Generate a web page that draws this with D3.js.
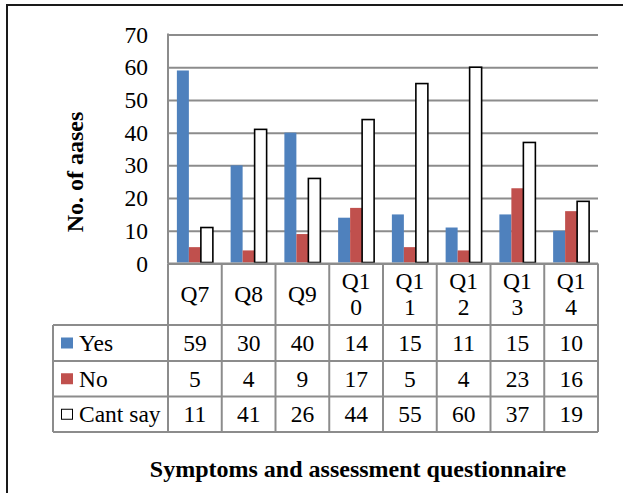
<!DOCTYPE html>
<html>
<head>
<meta charset="utf-8">
<script src="https://cdn.jsdelivr.net/npm/d3@7"></script>
<style>
  body { margin: 0; background: #fff; }
  svg { display: block; }
</style>
</head>
<body>
<svg id="chart" width="623" height="493"></svg>
<script>
// Survey responses per question
const categories = ["Q7", "Q8", "Q9", "Q10", "Q11", "Q12", "Q13", "Q14"];
const categoryLabels = [["Q7"], ["Q8"], ["Q9"], ["Q1", "0"], ["Q1", "1"], ["Q1", "2"], ["Q1", "3"], ["Q1", "4"]];
const seriesNames = ["Yes", "No", "Cant say"];
const yesValues = [59, 30, 40, 14, 15, 11, 15, 10];
const noValues = [5, 4, 9, 17, 5, 4, 23, 16];
const cantSayValues = [11, 41, 26, 44, 55, 60, 37, 19];
const yTicks = [0, 10, 20, 30, 40, 50, 60, 70];
const yAxisTitle = "No. of aases";
const chartTitle = "Symptoms and assessment questionnaire";

const seriesValues = [yesValues, noValues, cantSayValues];
const seriesFill = { "Yes": "#4f81bd", "No": "#c0504d", "Cant say": "#ffffff" };
const seriesStroke = { "Yes": "none", "No": "none", "Cant say": "#000000" };

const FONT = "'Liberation Serif', 'Times New Roman', Times, 'DejaVu Serif', serif";
const FS = 23.5;

const svg = d3.select("#chart");
const gridColor = "#8c8c8c";

// helper for styled text
function addText(parent, str, x, yPos, opts = {}) {
  return parent.append("text")
    .attr("x", x).attr("y", yPos)
    .attr("dy", opts.dy || null)
    .attr("text-anchor", opts.anchor || "start")
    .style("font-family", FONT)
    .style("font-size", (opts.size || FS) + "px")
    .style("font-weight", opts.bold ? "bold" : "normal")
    .style("fill", "#000")
    .text(str);
}

// Layout
const plotLeft = 168, plotRight = 598, plotTop = 34.5, plotBottom = 263.5;
const tableLeft = 53;
const rowEdges = [263.5, 325, 361, 396.5, 432]; // category row, then one row per series

// Outer frame
svg.append("rect")
  .attr("x", 7).attr("y", 5)
  .attr("width", 700).attr("height", 600)
  .attr("fill", "none").attr("stroke", "#1a1a1a").attr("stroke-width", 2);

// Scales
const x0 = d3.scaleBand().domain(categories).range([plotLeft, plotRight]).padding(0);
const x1 = d3.scaleBand().domain(seriesNames).range([0, x0.bandwidth()]).paddingInner(0).paddingOuter(0.74);
const y = d3.scaleLinear().domain([0, 70]).range([plotBottom, plotTop]);

// Horizontal gridlines
const grid = svg.append("g")
  .attr("transform", `translate(${plotLeft},0)`)
  .call(d3.axisLeft(y).tickValues(yTicks).tickSize(-(plotRight - plotLeft)).tickFormat(""));
grid.select(".domain").remove();
grid.selectAll(".tick line").attr("stroke", gridColor).attr("stroke-width", 2);

// Tick labels
const yAxis = svg.append("g")
  .attr("transform", `translate(${plotLeft},0)`)
  .call(d3.axisLeft(y).tickValues(yTicks).tickSize(0).tickPadding(20));
yAxis.select(".domain").remove();
yAxis.attr("font-family", null).attr("font-size", null);
yAxis.selectAll(".tick text")
  .style("font-family", FONT)
  .style("font-size", FS + "px")
  .style("fill", "#000");

// Left axis line
svg.append("line")
  .attr("x1", plotLeft).attr("x2", plotLeft)
  .attr("y1", plotTop - 1).attr("y2", plotBottom)
  .attr("stroke", gridColor).attr("stroke-width", 2);

// Bars
const bars = [];
seriesNames.forEach((s, si) => {
  categories.forEach((c, ci) => bars.push({ series: s, cat: c, value: seriesValues[si][ci] }));
});
svg.append("g").selectAll("rect")
  .data(bars)
  .join("rect")
  .attr("x", d => x0(d.cat) + x1(d.series))
  .attr("y", d => y(d.value))
  .attr("width", x1.bandwidth())
  .attr("height", d => y(0) - y(d.value) - 1)
  .attr("fill", d => seriesFill[d.series])
  .attr("stroke", d => seriesStroke[d.series])
  .attr("stroke-width", d => d.series === "Cant say" ? 1.6 : 0);

// Data table below the plot
const table = svg.append("g").attr("stroke", gridColor).attr("stroke-width", 2);
rowEdges.forEach((ry, i) => {
  table.append("line")
    .attr("x1", i === 0 ? plotLeft : tableLeft).attr("x2", plotRight)
    .attr("y1", ry).attr("y2", ry);
});
table.append("line")
  .attr("x1", tableLeft).attr("x2", tableLeft)
  .attr("y1", rowEdges[1]).attr("y2", rowEdges[4]);
categories.forEach(c => {
  table.append("line")
    .attr("x1", x0(c)).attr("x2", x0(c))
    .attr("y1", rowEdges[0]).attr("y2", rowEdges[4]);
});
table.append("line")
  .attr("x1", plotRight).attr("x2", plotRight)
  .attr("y1", rowEdges[0]).attr("y2", rowEdges[4]);

// Category labels
const catRowMid = (rowEdges[0] + rowEdges[1]) / 2;
const catLines = 26;
categories.forEach((c, ci) => {
  const lines = categoryLabels[ci];
  lines.forEach((ln, li) => {
    addText(svg, ln, x0(c) + x0.bandwidth() / 2,
      catRowMid + (li - (lines.length - 1) / 2) * catLines,
      { anchor: "middle", dy: "0.35em" });
  });
});

// Series rows: legend key, name, values
seriesNames.forEach((s, si) => {
  const mid = (rowEdges[si + 1] + rowEdges[si + 2]) / 2;
  const open = s === "Cant say";
  svg.append("rect")
    .attr("x", open ? 61.5 : 61)
    .attr("y", open ? mid - 5 : mid - 5.5)
    .attr("width", open ? 11 : 12)
    .attr("height", open ? 10 : 11)
    .attr("fill", seriesFill[s])
    .attr("stroke", seriesStroke[s])
    .attr("stroke-width", 1);
  addText(svg, s, 79, mid, { dy: "0.35em" });
  categories.forEach((c, ci) => {
    addText(svg, seriesValues[si][ci], x0(c) + x0.bandwidth() / 2, mid,
      { anchor: "middle", dy: "0.35em" });
  });
});

// Axis titles
addText(svg, yAxisTitle, 0, 0, { anchor: "middle", bold: true, size: 24 })
  .attr("transform", "translate(83,172) rotate(-90)");

addText(svg, chartTitle, 358, 477, { anchor: "middle", bold: true, size: 24 });
</script>
</body>
</html>
